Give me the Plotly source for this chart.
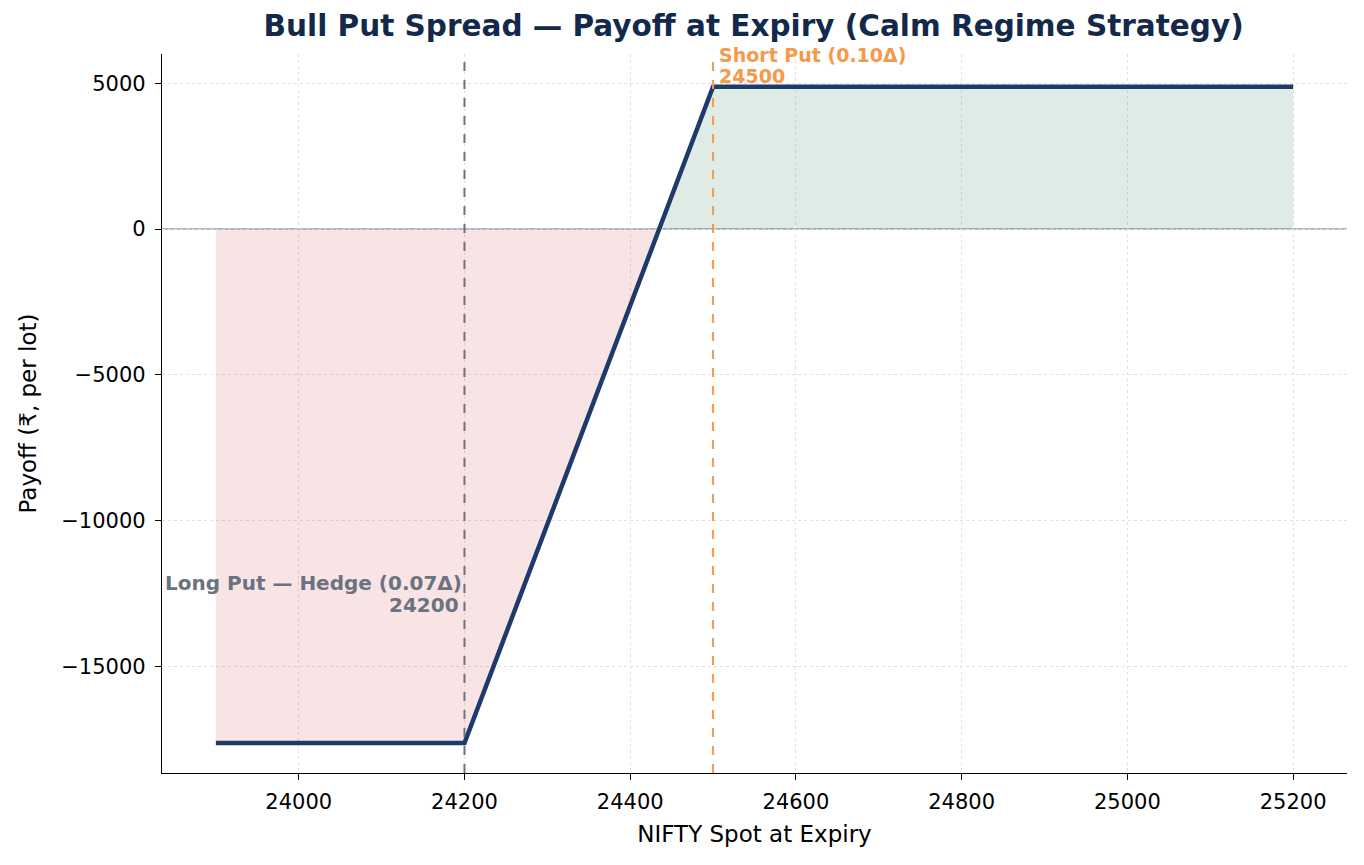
import plotly.graph_objects as go

# Data
spot = [23900, 24200, 24435, 24500, 25200]
payoff = [-17625, -17625, 0, 4875, 4875]
loss_x = [23900, 24200, 24435]
loss_y = [-17625, -17625, 0]
gain_x = [24435, 24500, 25200]
gain_y = [0, 4875, 4875]
long_strike = 24200
short_strike = 24500
long_label = ["Long Put — Hedge (0.07Δ)", "24200"]
short_label = ["Short Put (0.10Δ)", "24500"]
x_ticks = [24000, 24200, 24400, 24600, 24800, 25000, 25200]
x_tick_text = ["24000", "24200", "24400", "24600", "24800", "25000", "25200"]
y_ticks = [-15000, -10000, -5000, 0, 5000]
y_tick_text = ["−15000", "−10000", "−5000", "0", "5000"]

NAVY = "#1E3A6B"
ORANGE = "#F5994A"
GRAY = "#6B7280"
font = "DejaVu Sans"

fig = go.Figure()
fig.add_trace(go.Scatter(x=loss_x, y=loss_y, fill="tozeroy", mode="lines",
                         line=dict(width=1, color="rgba(214,90,90,0.25)"),
                         fillcolor="rgba(214,90,90,0.16)", showlegend=False, hoverinfo="skip"))
fig.add_trace(go.Scatter(x=gain_x, y=gain_y, fill="tozeroy", mode="lines",
                         line=dict(width=1, color="rgba(60,140,100,0.2)"),
                         fillcolor="rgba(60,140,100,0.17)", showlegend=False, hoverinfo="skip"))

fig.add_hline(y=0, line=dict(color="#95A3B8", width=1.6), layer="below")

fig.add_trace(go.Scatter(x=spot, y=payoff, mode="lines",
                         line=dict(color=NAVY, width=4.5), showlegend=False))

fig.add_vline(x=long_strike, line=dict(color=GRAY, width=2, dash="dash"))
fig.add_vline(x=short_strike, line=dict(color=ORANGE, width=2, dash="dash"))

# short put label (two lines)
for i, txt in enumerate(short_label):
    fig.add_annotation(x=short_strike, y=1, xref="x", yref="paper",
                       text=txt, showarrow=False, borderpad=0,
                       xanchor="left", yanchor="middle", xshift=5, yshift=-1 - 20.5 * i,
                       font=dict(family=font, size=19, color=ORANGE, weight="bold"))
# long put label (two lines)
for i, txt in enumerate(long_label):
    fig.add_annotation(x=long_strike, y=-12500, xref="x", yref="y",
                       text=txt, showarrow=False,
                       xanchor="right", yanchor="middle", xshift=0 if i == 0 else -3,
                       yshift=11 - 22 * i,
                       font=dict(family=font, size=20, color=GRAY, weight="bold"))

fig.update_layout(
    width=1364, height=865,
    paper_bgcolor="white", plot_bgcolor="white",
    margin=dict(l=162, r=17, t=54, b=92),
    font=dict(family=font, size=21, color="black"),
    title=dict(text="<b>Bull Put Spread — Payoff at Expiry (Calm Regime Strategy)</b>",
               x=0.5525, xanchor="center", y=0.9705, yanchor="middle",
               font=dict(family=font, size=29.5, color="#13294B")),
    xaxis=dict(range=[23835, 25265], tickvals=x_ticks, ticktext=x_tick_text,
               showline=True, linecolor="black",
               linewidth=1.3, ticks="outside", ticklen=6, tickcolor="black",
               ticklabelstandoff=4,
               showgrid=True, gridcolor="#E0E0E0", griddash="dot", gridwidth=1,
               zeroline=False, title=dict(text="NIFTY Spot at Expiry", font=dict(size=23), standoff=12),
               tickfont=dict(size=21)),
    yaxis=dict(range=[-18650, 6000], tickvals=y_ticks, ticktext=y_tick_text,
               showline=True, linecolor="black",
               linewidth=1.3, ticks="outside", ticklen=6, tickcolor="black",
               ticklabelstandoff=5,
               showgrid=True, gridcolor="#E0E0E0", griddash="dot", gridwidth=1,
               zeroline=False, title=dict(text="Payoff (₹, per lot)", font=dict(size=23), standoff=18),
               tickfont=dict(size=21)),
)

fig.write_html("out.html")
